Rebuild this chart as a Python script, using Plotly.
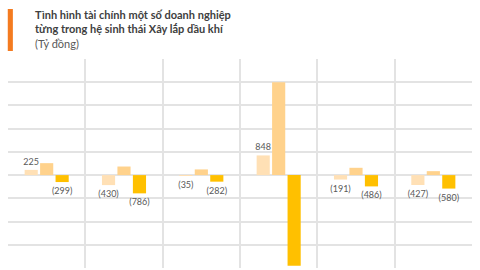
import plotly.graph_objects as go

categories = ["DN1", "DN2", "DN3", "DN4", "DN5", "DN6"]
series_a = [225, -430, -35, 848, -191, -427]
series_b = [515, 370, 245, 4000, 315, 170]
series_c = [-299, -786, -282, -3900, -486, -580]
labels_a = ["225", "(430)", "(35)", "848", "(191)", "(427)"]
labels_c = ["(299)", "(786)", "(282)", "", "(486)", "(580)"]

colors = ["#FFE0B5", "#FFD28C", "#FFC000"]
xpos = list(range(len(categories)))

fig = go.Figure()
fig.add_trace(go.Bar(x=xpos, y=series_a, marker_color=colors[0], text=labels_a,
                     textposition="outside", cliponaxis=False, constraintext="none",
                     textfont=dict(size=9, color="#595959"), marker_line_width=0))
fig.add_trace(go.Bar(x=xpos, y=series_b, marker_color=colors[1], marker_line_width=0))
fig.add_trace(go.Bar(x=xpos, y=series_c, marker_color=colors[2], text=labels_c,
                     textposition="outside", cliponaxis=False, constraintext="none",
                     textfont=dict(size=9, color="#595959"), marker_line_width=0))

fig.update_layout(
    width=480, height=270,
    margin=dict(l=8, r=8, t=59, b=2),
    paper_bgcolor="white", plot_bgcolor="white",
    barmode="group", bargap=0.4, bargroupgap=0.15,
    showlegend=False,
    font=dict(family="Lato, Open Sans, sans-serif", color="#595959"),
    xaxis=dict(range=[-0.5, 5.5], tick0=-0.5, dtick=1, showticklabels=False,
               showgrid=True, gridcolor="#E3E3E3", gridwidth=1.5, zeroline=False,
               ticks=""),
    yaxis=dict(range=[-4000, 5000], dtick=1000, showticklabels=False,
               showgrid=True, gridcolor="#E3E3E3", gridwidth=1.5,
               zeroline=True, zerolinecolor="#E3E3E3", zerolinewidth=1.5),
    shapes=[dict(type="rect", xref="paper", yref="paper",
                 x0=-0.0005, x1=0.0105, y0=(270-51-2)/209, y1=(270-9-2)/209,
                 fillcolor="#F47B20", line_width=0)],
    annotations=[
        dict(xref="paper", yref="paper", x=(33-8)/464, y=(270-6-2)/209,
             xanchor="left", yanchor="top", align="left", showarrow=False,
             text="<b>Tình hình tài chính một số doanh nghiệp<br>từng trong hệ sinh thái Xây lắp dầu khí</b>",
             font=dict(size=11, color="#404040", family="Lato, sans-serif")),
        dict(xref="paper", yref="paper", x=(33-8)/464, y=(270-35-2)/209,
             xanchor="left", yanchor="top", align="left", showarrow=False,
             text="(Tỷ đồng)",
             font=dict(size=11, color="#595959", family="Lato, sans-serif")),
    ],
)

fig.write_html("out.html")
